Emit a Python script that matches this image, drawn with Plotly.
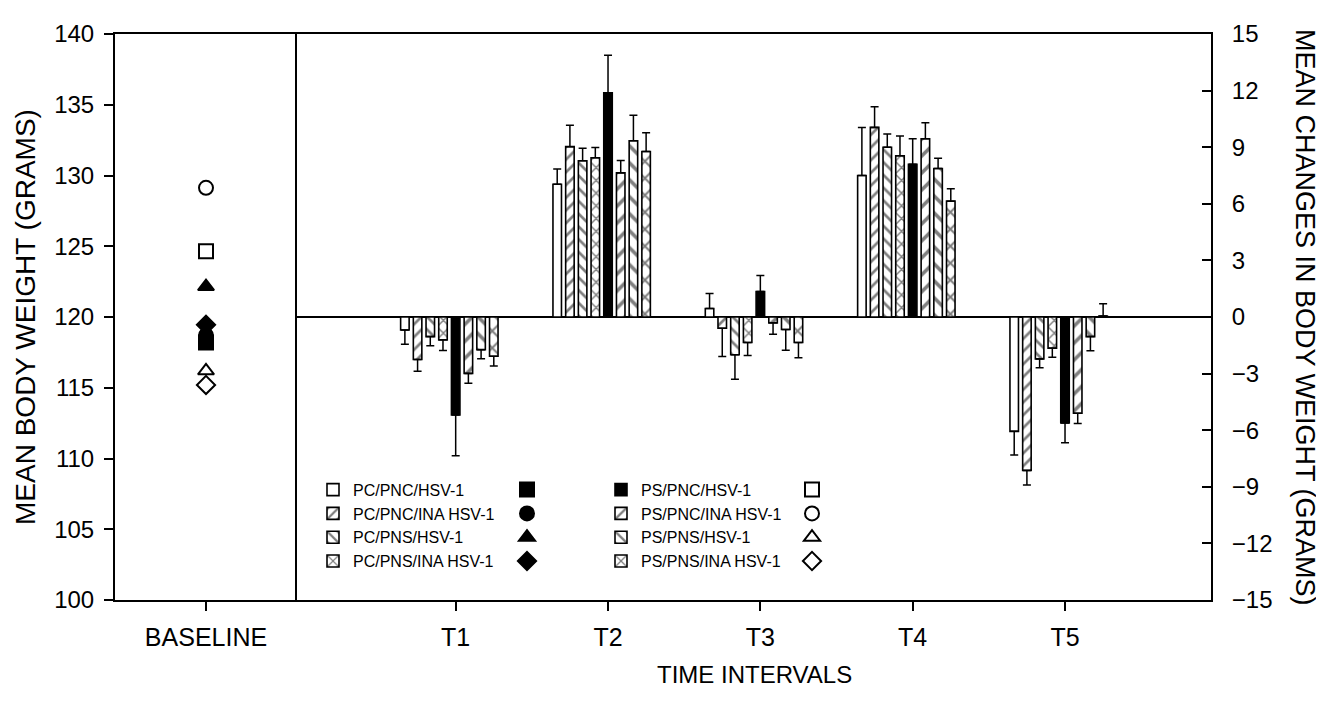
import plotly.graph_objects as go

# ---------------- data ----------------
groups = ["PC/PNC/HSV-1", "PC/PNC/INA HSV-1", "PC/PNS/HSV-1", "PC/PNS/INA HSV-1",
          "PS/PNC/HSV-1", "PS/PNC/INA HSV-1", "PS/PNS/HSV-1", "PS/PNS/INA HSV-1"]
intervals = ["T1", "T2", "T3", "T4", "T5"]
interval_pos = [1, 2, 3, 4, 5]

baseline_weight = [118.2, 118.7, 122.15, 119.45, 124.64, 129.13, 116.2, 115.2]

chg_pc_pnc_hsv = [-0.69, 7.04, 0.45, 7.5, -6.06]
err_pc_pnc_hsv = [0.75, 0.81, 0.8, 2.55, 1.25]
chg_pc_pnc_ina = [-2.25, 9.03, -0.6, 10.05, -8.13]
err_pc_pnc_ina = [0.62, 1.14, 1.5, 1.1, 0.78]
chg_pc_pns_hsv = [-1.04, 8.28, -2.0, 9.0, -2.22]
err_pc_pns_hsv = [0.48, 0.66, 1.3, 0.7, 0.47]
chg_pc_pns_ina = [-1.21, 8.44, -1.35, 8.55, -1.65]
err_pc_pns_ina = [0.57, 0.54, 0.69, 1.05, 0.48]
chg_ps_pnc_hsv = [-5.19, 11.88, 1.35, 8.1, -5.62]
err_ps_pnc_hsv = [2.16, 2.0, 0.85, 1.35, 1.04]
chg_ps_pnc_ina = [-2.99, 7.64, -0.31, 9.45, -5.1]
err_ps_pnc_ina = [0.52, 0.66, 0.6, 0.85, 0.55]
chg_ps_pns_hsv = [-1.73, 9.34, -0.66, 7.87, -1.04]
err_ps_pns_hsv = [0.48, 1.35, 1.1, 0.55, 0.75]
chg_ps_pns_ina = [-2.08, 8.77, -1.35, 6.14, 0.05]
err_ps_pns_ina = [0.52, 1.0, 0.81, 0.66, 0.65]

changes = [chg_pc_pnc_hsv, chg_pc_pnc_ina, chg_pc_pns_hsv, chg_pc_pns_ina,
           chg_ps_pnc_hsv, chg_ps_pnc_ina, chg_ps_pns_hsv, chg_ps_pns_ina]
errors = [err_pc_pnc_hsv, err_pc_pnc_ina, err_pc_pns_hsv, err_pc_pns_ina,
          err_ps_pnc_hsv, err_ps_pnc_ina, err_ps_pns_hsv, err_ps_pns_ina]

# ---------------- styles ----------------
FONT = "Liberation Sans, Arial, sans-serif"
bar_fill = ["white", "white", "white", "white", "black", "white", "white", "white"]
bar_shape = ["", "/", "\\", "x", "", "/", "\\", "x"]
bar_psize = [8, 9, 9, 9, 8, 12, 12, 12]
marker_sym = ["square", "circle", "triangle-up", "diamond",
              "square-open", "circle-open", "triangle-up-open", "diamond-open"]
legend_of_bar = ["legend", "legend", "legend", "legend", "legend2", "legend2", "legend2", "legend2"]
legend_of_pt = ["legend3"] * 4 + ["legend4"] * 4

BARGAP = 0.333
N = len(groups)
slot = (1 - BARGAP) / N
tick_pos = [p + slot / 2 for p in interval_pos]   # tick sits on 5th (black) bar

fig = go.Figure()

# bars (right panel)
for i, g in enumerate(groups):
    vals = changes[i]
    errs = errors[i]
    up = [e if v >= 0 else 0 for v, e in zip(vals, errs)]
    dn = [e if v < 0 else 0 for v, e in zip(vals, errs)]
    fig.add_trace(go.Bar(
        x=interval_pos, y=vals, name=g, xaxis="x2", yaxis="y2",
        legend=legend_of_bar[i],
        marker=dict(color=bar_fill[i], line=dict(color="black", width=1.6),
                    pattern=dict(shape=bar_shape[i], fgcolor="black", bgcolor=bar_fill[i],
                                 size=bar_psize[i], solidity=0.3)),
        error_y=dict(type="data", symmetric=False, array=up, arrayminus=dn,
                     color="black", thickness=1.5, width=4),
    ))

# baseline markers (left panel)
for i, g in enumerate(groups):
    fig.add_trace(go.Scatter(
        x=["BASELINE"], y=[baseline_weight[i]], mode="markers", name=" ",
        xaxis="x", yaxis="y", legend=legend_of_pt[i],
        marker=dict(symbol=marker_sym[i], size=14, color="black",
                    line=dict(color="black", width=2)),
        hovertext=g,
    ))

# plot area in page pixels: x 115..1211, y 22..600 (page body has an 8px margin)
ML, MR, MT, MB = 107, 121, 14, 125
PW = 1324 - ML - MR
PH = 717 - MT - MB
DIV = (297 - 115) / PW
xtickfont = dict(family=FONT, size=25, color="black")
ytickfont = dict(family=FONT, size=24, color="black")

def px_x(px):
    return (px - 115) / PW

def px_y(py):
    return (600 - py) / PH

def leg(x):
    return dict(x=x, y=px_y(470), xanchor="left", yanchor="top", bgcolor="rgba(0,0,0,0)",
                font=dict(family=FONT, size=16, color="black"), tracegroupgap=0,
                itemclick=False)

fig.update_layout(
    width=1324, height=717,
    margin=dict(l=ML, r=MR, t=MT, b=MB),
    paper_bgcolor="white", plot_bgcolor="white",
    barmode="group", bargap=BARGAP, bargroupgap=0.33,
    showlegend=True,
    legend=leg(px_x(313)), legend2=leg(px_x(601)),
    legend3=leg(px_x(507)), legend4=leg(px_x(792)),
    xaxis=dict(domain=[0, DIV], type="category", range=[-0.5, 0.5],
               showline=True, linecolor="black", linewidth=2, mirror=True,
               ticks="outside", ticklen=9, tickwidth=1.5, tickcolor="black",
               tickfont=xtickfont, ticklabelstandoff=5, showgrid=False, zeroline=False),
    xaxis3=dict(domain=[0, DIV], overlaying="x", anchor="y", range=[-0.5, 0.5],
                tickvals=[0], ticks="inside", ticklen=9, tickwidth=1.5, tickcolor="black",
                showticklabels=False, showline=False, showgrid=False, zeroline=False),
    yaxis=dict(range=[100, 140], dtick=5, tick0=100, anchor="x",
               showline=True, linecolor="black", linewidth=2, mirror=False,
               ticks="outside", ticklen=9, tickwidth=1.5, tickcolor="black",
               tickfont=ytickfont, ticklabelstandoff=5, ticklabeloverflow="allow",
               showgrid=False, zeroline=False),
    yaxis3=dict(range=[100, 140], dtick=5, tick0=100, overlaying="y", anchor="x",
                ticks="inside", ticklen=8, tickwidth=1.5, tickcolor="black",
                showticklabels=False, showline=False, showgrid=False, zeroline=False),
    xaxis2=dict(domain=[DIV, 1], range=[0, 6], anchor="y2",
                tickvals=tick_pos, ticktext=intervals,
                showline=True, linecolor="black", linewidth=2, mirror=True,
                ticks="outside", ticklen=9, tickwidth=1.5, tickcolor="black",
                tickfont=xtickfont, ticklabelstandoff=5, showgrid=False, zeroline=False),
    xaxis4=dict(domain=[DIV, 1], range=[0, 6], overlaying="x2", anchor="y2",
                tickvals=tick_pos, ticks="inside", ticklen=9, tickwidth=1.5, tickcolor="black",
                showticklabels=False, showline=False, showgrid=False, zeroline=False),
    yaxis2=dict(range=[-15, 15], dtick=3, tick0=0, anchor="x2", side="right",
                showline=True, linecolor="black", linewidth=2, mirror=True,
                ticks="inside", ticklen=9, tickwidth=1.5, tickcolor="black",
                tickfont=ytickfont, ticklabelstandoff=14, ticklabeloverflow="allow",
                showgrid=False,
                zeroline=True, zerolinecolor="black", zerolinewidth=2),
    annotations=[
        dict(text="MEAN BODY WEIGHT (GRAMS)", xref="paper", yref="paper",
             x=px_x(25), y=0.5, xanchor="center", yanchor="middle",
             textangle=-90, showarrow=False,
             font=dict(family=FONT, size=28, color="black")),
        dict(text="MEAN CHANGES IN BODY WEIGHT (GRAMS)", xref="paper", yref="paper",
             x=px_x(1305), y=0.5, xanchor="center", yanchor="middle",
             textangle=90, showarrow=False,
             font=dict(family=FONT, size=27, color="black")),
        dict(text="TIME INTERVALS", xref="paper", yref="paper",
             x=px_x(754), y=px_y(676), xanchor="center", yanchor="middle",
             showarrow=False,
             font=dict(family=FONT, size=24, color="black")),
    ],
)

fig.write_html("out.html")
